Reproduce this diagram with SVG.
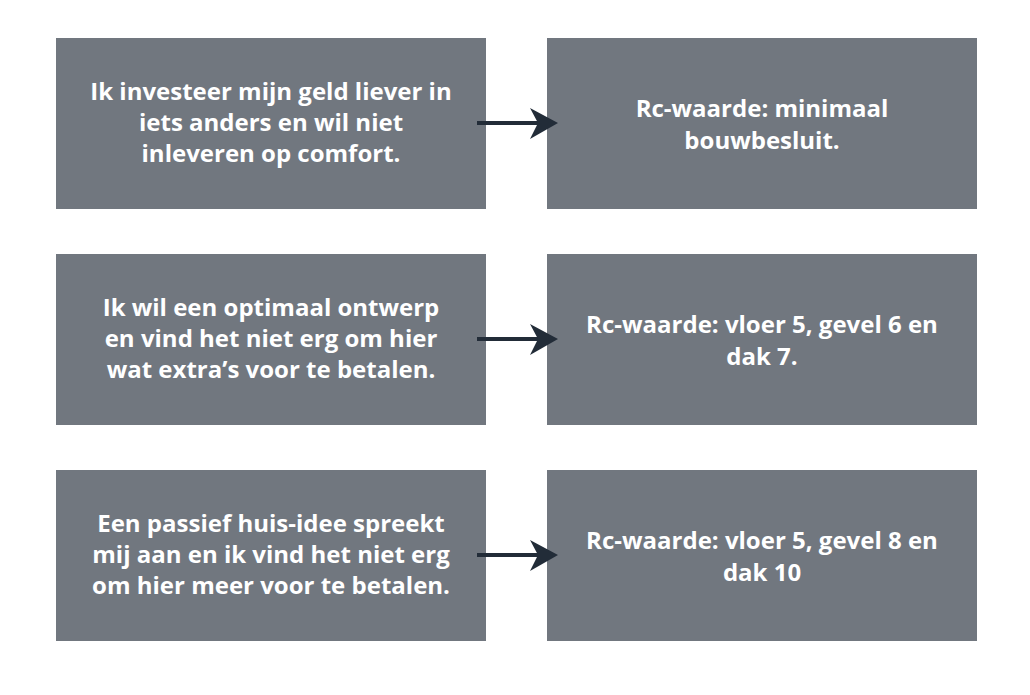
<svg xmlns="http://www.w3.org/2000/svg" width="1030" height="695" viewBox="0 0 1030 695">
<style>
.box{fill:#71777f}
.t{font-family:"Open Sans","Liberation Sans",sans-serif;font-weight:700;font-size:24px;fill:#ffffff;text-anchor:middle}
.conn{stroke:#222c38;stroke-width:4;fill:none}
.head{fill:#222c38}
</style>
<rect width="1030" height="695" fill="#ffffff"/>
<g id="n1"><rect class="box" x="56" y="38" width="430" height="171"/>
<text class="t" x="271" y="100">Ik investeer mijn geld liever in</text>
<text class="t" x="271" y="131">iets anders en wil niet</text>
<text class="t" x="271" y="162">inleveren op comfort.</text></g>
<g id="n2"><rect class="box" x="547" y="38" width="430" height="171"/>
<text class="t" x="762" y="117">Rc-waarde: minimaal</text>
<text class="t" x="762" y="148.5">bouwbesluit.</text></g>
<g id="n3"><rect class="box" x="56" y="254" width="430" height="171"/>
<text class="t" x="271" y="316">Ik wil een optimaal ontwerp</text>
<text class="t" x="271" y="347">en vind het niet erg om hier</text>
<text class="t" x="271" y="378">wat extra’s voor te betalen.</text></g>
<g id="n4"><rect class="box" x="547" y="254" width="430" height="171"/>
<text class="t" x="762" y="333">Rc-waarde: vloer 5, gevel 6 en</text>
<text class="t" x="762" y="364.5">dak 7.</text></g>
<g id="n5"><rect class="box" x="56" y="470" width="430" height="171"/>
<text class="t" x="271" y="532">Een passief huis-idee spreekt</text>
<text class="t" x="271" y="563">mij aan en ik vind het niet erg</text>
<text class="t" x="271" y="594">om hier meer voor te betalen.</text></g>
<g id="n6"><rect class="box" x="547" y="470" width="430" height="171"/>
<text class="t" x="762" y="549">Rc-waarde: vloer 5, gevel 8 en</text>
<text class="t" x="762" y="580.5">dak 10</text></g>
<g id="connectors">
<line class="conn" x1="477" y1="123" x2="540" y2="123"/>
<path class="head" d="M558,123 L530,108 L538,123 L530,139 Z"/>
<line class="conn" x1="477" y1="339" x2="540" y2="339"/>
<path class="head" d="M558,339 L530,324 L538,339 L530,355 Z"/>
<line class="conn" x1="477" y1="555" x2="540" y2="555"/>
<path class="head" d="M558,555 L530,540 L538,555 L530,571 Z"/>
</g>
</svg>
